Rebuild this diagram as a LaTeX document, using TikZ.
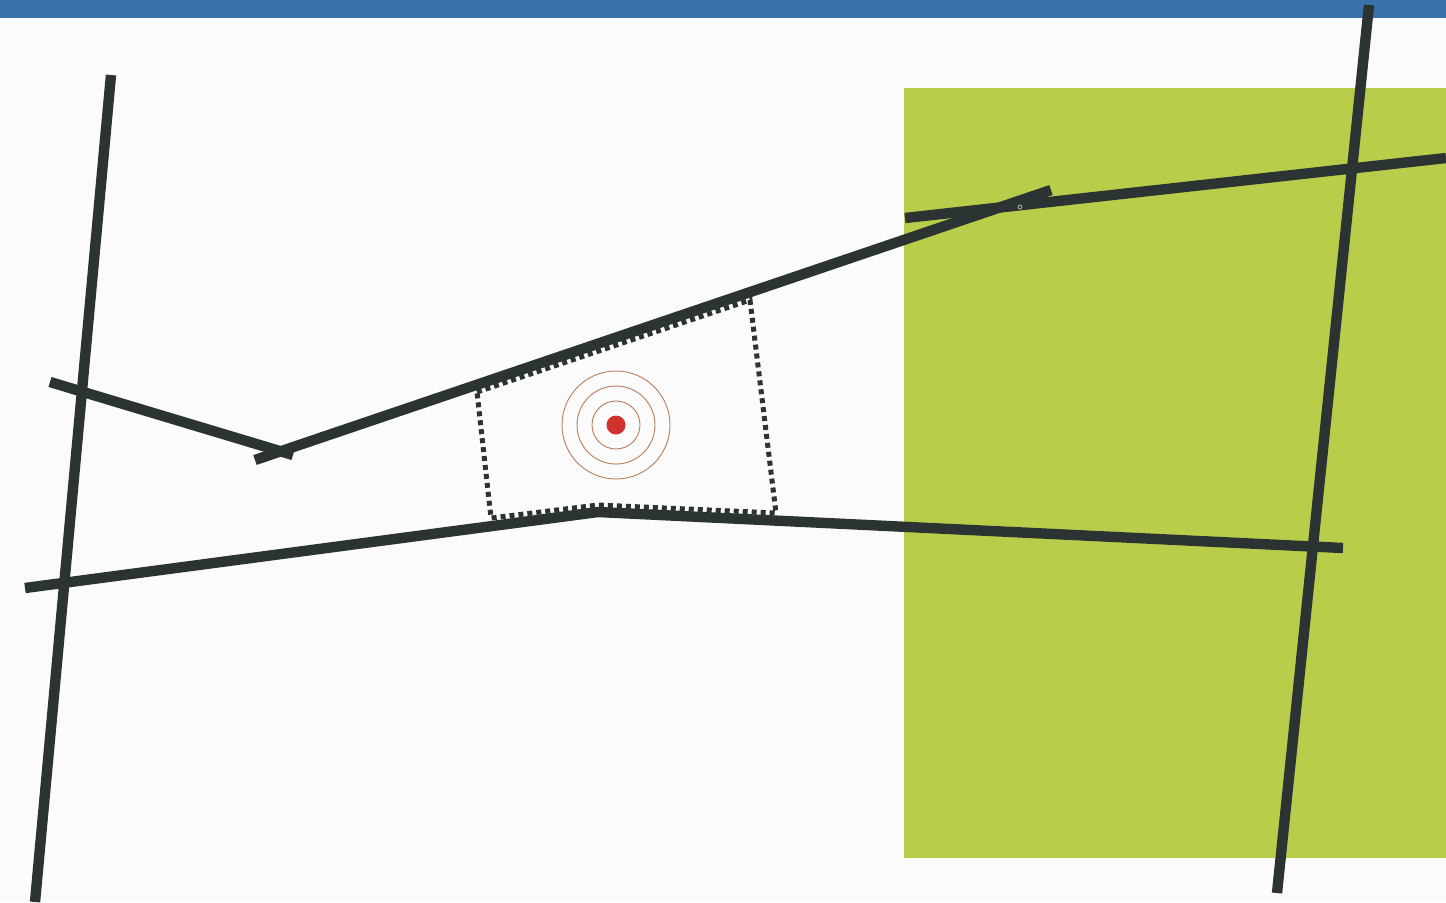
\documentclass[tikz,border=0pt]{standalone}
\begin{document}
\begin{tikzpicture}[x=0.5pt,y=-0.5pt,
  road/.style={line width=5.2pt,draw=roadc,line cap=butt},
  dotline/.style={line width=2.5pt,draw=roadc,dash pattern=on 2.5pt off 2pt},
  ring/.style={line width=0.45pt,draw=ringc}]
\definecolor{bgc}{RGB}{251,251,251}
\definecolor{barc}{RGB}{58,115,170}
\definecolor{greenc}{RGB}{184,206,75}
\definecolor{roadc}{RGB}{44,52,51}
\definecolor{ringc}{RGB}{185,125,90}
\definecolor{dotc}{RGB}{210,50,45}
\useasboundingbox (0,0) rectangle (1446,902);
\fill[bgc] (0,0) rectangle (1446,902);
\fill[barc] (0,0) rectangle (1446,18);
\fill[greenc] (904,88) rectangle (1446,858);
% coordinates
\coordinate (lvA) at (111,75);
\coordinate (lvB) at (35,902);
\coordinate (rvA) at (1369,5);
\coordinate (rvB) at (1277,893);
\coordinate (lsA) at (50,382);
\coordinate (lsB) at (293,455);
\coordinate (udA) at (255,460);
\coordinate (udB) at (1051,190);
\coordinate (urA) at (905,218);
\coordinate (urB) at (1446,158);
\coordinate (loA) at (25,588);
\coordinate (loM) at (598,512);
\coordinate (loB) at (1343,548);
% dotted quad
\coordinate (q1) at (477,392);
\coordinate (q2) at (750,300);
\coordinate (q3) at (776,513);
\coordinate (qk) at (598,505);
\coordinate (q4) at (491,518);
\draw[dotline] (q1) -- (q2) -- (q3) -- (qk) -- (q4) -- cycle;
% roads
\draw[road] (lvA) -- (lvB);
\draw[road] (rvA) -- (rvB);
\draw[road] (lsA) -- (lsB);
\draw[road] (udA) -- (udB);
\draw[road] (urA) -- (urB);
\draw[road] (loA) -- (loM) -- (loB);
\draw[line width=0.4pt,draw=gray!60] (1020,207) circle (2);
% target
\coordinate (tc) at (616,425);
\draw[ring] (tc) circle (24);
\draw[ring] (tc) circle (39);
\draw[ring] (tc) circle (54);
\fill[dotc] (tc) circle (9.5);
\end{tikzpicture}
\end{document}
